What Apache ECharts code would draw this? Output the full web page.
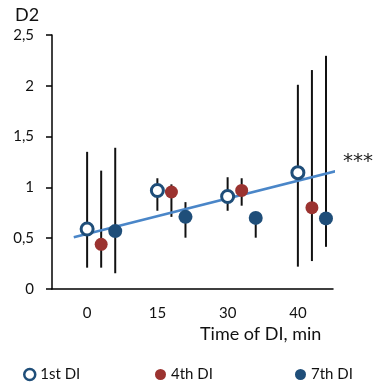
<!DOCTYPE html>
<html><head><meta charset="utf-8">
<script src="https://cdn.jsdelivr.net/npm/echarts@6/dist/echarts.min.js"></script>
<style>html,body{margin:0;padding:0;background:#fff}#c{width:383px;height:383px}</style>
</head><body><div id="c"></div>
<script>
var categories = ['0', '15', '30', '40'];
var yTicks = ['0', '0,5', '1', '1,5', '2', '2,5'];
var first = [0.59, 0.97, 0.91, 1.145];
var firstHi = [1.35, 1.09, 1.10, 2.01];
var firstLo = [0.21, 0.77, 0.77, 0.22];
var fourth = [0.44, 0.955, 0.97, 0.80];
var fourthHi = [1.165, 1.03, 1.09, 2.155];
var fourthLo = [0.21, 0.71, 0.82, 0.275];
var seventh = [0.57, 0.71, 0.70, 0.695];
var seventhHi = [1.39, 0.855, 0.74, 2.295];
var seventhLo = [0.155, 0.505, 0.505, 0.415];
var trendX = [-0.19, 3.54];
var trendY = [0.51, 1.16];
var seriesNames = ['1st DI', '4th DI', '7th DI'];

var FONT = 'Lato';
var C_BLUE = '#1f4e79', C_RED = '#9b3330', C_TREND = '#4a86c8';
var offs = [0, 0.2, 0.4];

function pts(vals, k) { return vals.map(function (v, i) { return [i + offs[k], v]; }); }
function bars(lo, hi, k) { return lo.map(function (v, i) { return [i + offs[k], lo[i], hi[i]]; }); }
var allBars = bars(firstLo, firstHi, 0).concat(bars(fourthLo, fourthHi, 1), bars(seventhLo, seventhHi, 2));

var chart = echarts.init(document.getElementById('c'));
chart.setOption({
  animation: false,
  textStyle: { fontFamily: FONT },
  grid: { left: 52, right: 50, top: 35, bottom: 94 },
  title: { text: 'D2', left: 10, top: 1, textStyle: { fontFamily: FONT, fontSize: 18, fontWeight: 'normal', color: '#111' } },
  xAxis: [
    { type: 'category', data: categories, boundaryGap: true,
      axisLine: { onZero: false, lineStyle: { color: '#000', width: 1.5 } }, axisTick: { show: false },
      axisLabel: { fontSize: 15, color: '#111', margin: 17, fontFamily: FONT }, splitLine: { show: false } },
    { type: 'value', min: -0.5, max: 3.5, show: false, axisLine: { onZero: false }, splitLine: { show: false } }
  ],
  yAxis: { type: 'value', min: 0, max: 2.5, interval: 0.5,
    axisLine: { show: true, onZero: false, lineStyle: { color: '#000', width: 1.5 } },
    axisTick: { show: true, length: 6, lineStyle: { color: '#000', width: 1.5 } },
    axisLabel: { fontSize: 15, color: '#111', margin: 18, fontFamily: FONT,
      formatter: function (v) { return yTicks[Math.round(v / 0.5)]; } },
    splitLine: { show: false } },
  legend: [
    { data: [{ name: seriesNames[0], icon: 'circle', itemStyle: { color: '#fff', borderColor: C_BLUE, borderWidth: 2.5 } }],
      left: 18, top: 362, itemWidth: 11, itemHeight: 11, itemGap: 4, textStyle: { fontSize: 15, color: '#111', fontFamily: FONT } },
    { data: [{ name: seriesNames[1], icon: 'circle' }],
      left: 150, top: 362, itemWidth: 11, itemHeight: 11, textStyle: { fontSize: 15, color: '#111', fontFamily: FONT } },
    { data: [{ name: seriesNames[2], icon: 'circle' }],
      left: 290, top: 362, itemWidth: 11, itemHeight: 11, textStyle: { fontSize: 15, color: '#111', fontFamily: FONT } }
  ],
  graphic: [
    { type: 'text', left: 200, top: 325, style: { text: 'Time of DI, min', font: '18px ' + FONT, fill: '#111' } },
    { type: 'text', left: 343, top: 152, style: { text: '***', font: '20px "DejaVu Sans"', fill: '#222' } }
  ],
  series: [
    { type: 'custom', xAxisIndex: 1, data: allBars, z: 1, silent: true,
      renderItem: function (params, api) {
        var a = api.coord([api.value(0), api.value(1)]);
        var b = api.coord([api.value(0), api.value(2)]);
        return { type: 'line', shape: { x1: a[0], y1: a[1], x2: b[0], y2: b[1] }, style: { stroke: '#111', lineWidth: 2 } };
      } },
    { type: 'line', xAxisIndex: 1, data: trendX.map(function (x, i) { return [x, trendY[i]]; }), clip: false,
      showSymbol: false, symbol: 'none', lineStyle: { color: C_TREND, width: 2.5 }, z: 2, silent: true },
    { name: seriesNames[0], type: 'scatter', xAxisIndex: 1, data: pts(first, 0), symbolSize: 12, z: 3,
      itemStyle: { color: '#fff', borderColor: C_BLUE, borderWidth: 3, opacity: 1 } },
    { name: seriesNames[1], type: 'scatter', xAxisIndex: 1, data: pts(fourth, 1), symbolSize: 13, z: 3,
      itemStyle: { color: C_RED, opacity: 1 } },
    { name: seriesNames[2], type: 'scatter', xAxisIndex: 1, data: pts(seventh, 2), symbolSize: 14, z: 3,
      itemStyle: { color: C_BLUE, opacity: 1 } }
  ]
});
</script></body></html>
